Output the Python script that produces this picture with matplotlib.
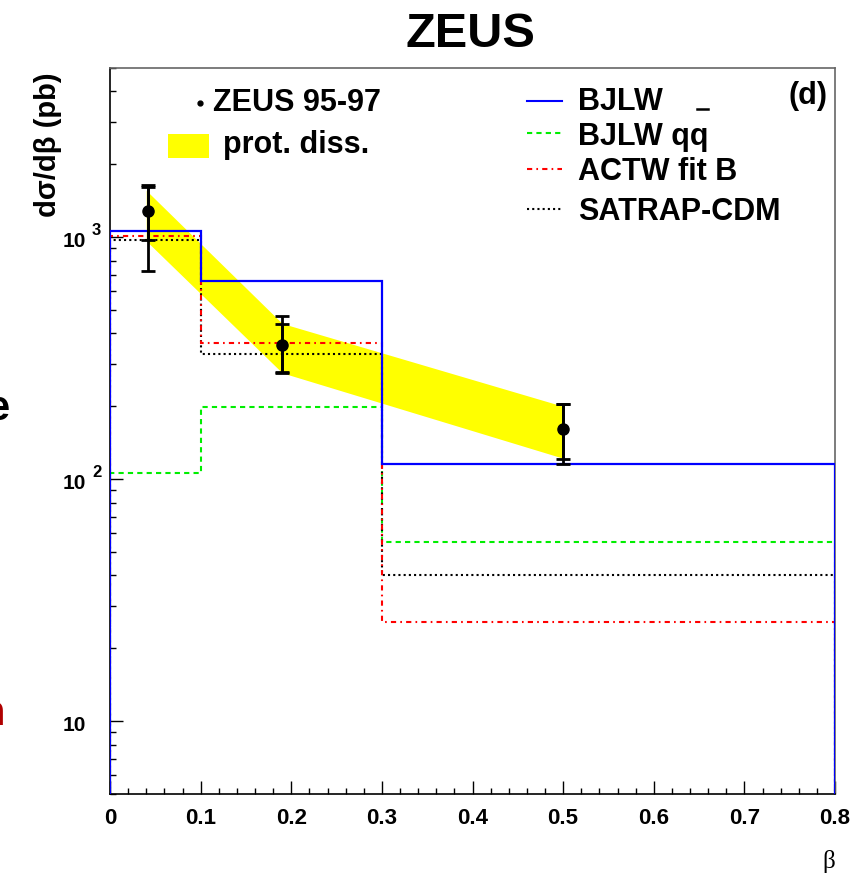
import matplotlib
matplotlib.use("Agg")
import matplotlib.pyplot as plt
from matplotlib.lines import Line2D
from matplotlib.patches import Rectangle
from matplotlib import transforms
from matplotlib.ticker import LogLocator, MultipleLocator, NullFormatter
import numpy as np

plt.rcParams['font.family'] = ['Liberation Sans', 'DejaVu Sans']

# data
edges = [0.0, 0.1, 0.3, 0.8]
bjlw = [1060, 658, 115]
bjlw_qq = [106, 199, 55]
actw = [1010, 365, 25.7]
satrap = [975, 328, 40]

beta = [0.042, 0.19, 0.5]
xsec = [1280, 358, 161]
stat_up = [330, 80, 43]
stat_dn = [310, 80, 40]
tot_up = [370, 114, 43]
tot_dn = [556, 83, 46]

band_x = [0.04, 0.19, 0.5]
band_hi = [1560, 440, 200]
band_lo = [965, 275, 122]

xticks = [0, 0.1, 0.2, 0.3, 0.4, 0.5, 0.6, 0.7, 0.8]
xticklabels = ['0', '0.1', '0.2', '0.3', '0.4', '0.5', '0.6', '0.7', '0.8']
ydecades = [10, 100, 1000]
ysup = ['', '2', '3']

W, H = 861, 876
fig = plt.figure(figsize=(W / 100, H / 100), dpi=100)


def fx(x):
    return x / W


def fy(y):
    return 1 - y / H


ax = fig.add_axes([fx(110), fy(794), fx(835) - fx(110), fy(68) - fy(794)])
ax.set_yscale('log')
ax.set_xlim(0, 0.8)
ax.set_ylim(5, 5000)

ax.fill_between(band_x, band_lo, band_hi, color='#ffff00', lw=0, zorder=1)

ax.stairs(bjlw_qq, edges, baseline=1, color='#00ee00', lw=1.5,
          linestyle=(0, (2.5, 2)), zorder=2)
ax.stairs(satrap, edges, baseline=1, color='black', lw=1.5,
          linestyle=(0, (1, 1.5)), zorder=2)
ax.stairs(actw, edges, baseline=1, color='#ff0000', lw=1.5,
          linestyle=(0, (2.5, 2, 0.8, 2)), zorder=2)
ax.stairs(bjlw, edges, baseline=1, color='#0000ff', lw=1.6, zorder=3)

ax.errorbar(beta, xsec, yerr=[tot_dn, tot_up], fmt='none', ecolor='black',
            elinewidth=2, capsize=5, capthick=2, zorder=4)
ax.errorbar(beta, xsec, yerr=[stat_dn, stat_up], fmt='o', color='black',
            ms=8, elinewidth=2, capsize=5, capthick=2, zorder=5)

# axes style (ROOT-like)
ax.xaxis.set_major_locator(MultipleLocator(0.1))
ax.xaxis.set_minor_locator(MultipleLocator(0.02))
ax.set_xticks(xticks)
ax.set_xticklabels(xticklabels, fontsize=16, fontweight='bold')
ax.yaxis.set_major_locator(LogLocator(base=10, numticks=10))
ax.yaxis.set_minor_locator(LogLocator(base=10, subs=np.arange(2, 10), numticks=20))
ax.yaxis.set_major_formatter(NullFormatter())
ax.yaxis.set_minor_formatter(NullFormatter())
ax.tick_params(which='both', direction='in', top=False, right=False, width=1)
ax.tick_params(which='major', length=9.5)
ax.tick_params(which='minor', length=4.5)
ax.tick_params(axis='x', pad=10)
ax.spines['top'].set_color('#666666')
ax.spines['right'].set_color('#666666')
for s in ax.spines.values():
    s.set_linewidth(1.2)

# y tick labels as 10 with raised exponent
tr_main = transforms.offset_copy(ax.get_yaxis_transform(), fig=fig, x=-24, y=-10, units='dots')
tr_sup = transforms.offset_copy(ax.get_yaxis_transform(), fig=fig, x=-18, y=2, units='dots')
for v, s in zip(ydecades, ysup):
    ax.text(0, v, '10', transform=tr_main, ha='right', va='baseline',
            fontsize=15, fontweight='bold')
    if s:
        ax.text(0, v, s, transform=tr_sup, ha='left', va='baseline',
                fontsize=12, fontweight='bold')

fig.text(fx(470), fy(47), 'ZEUS', ha='center', va='baseline',
         fontsize=35, fontweight='bold')
fig.text(fx(48), fy(145), 'dσ/dβ (pb)', rotation=90, ha='center', va='center',
         fontsize=21, fontweight='bold')
fig.text(fx(835), fy(868), 'β', ha='right', va='baseline', fontsize=18,
         family=['Liberation Serif', 'DejaVu Serif'])

# left legend
fig.add_artist(Line2D([fx(200)], [fy(103)], marker='o', ms=3.5, color='black', lw=0))
fig.text(fx(213), fy(111), 'ZEUS 95-97', ha='left', va='baseline',
         fontsize=22, fontweight='bold')
fig.add_artist(Rectangle((fx(168), fy(158)), fx(209) - fx(168), fy(134) - fy(158),
                         transform=fig.transFigure, color='#ffff00', lw=0))
fig.text(fx(223), fy(153), 'prot. diss.', ha='left', va='baseline',
         fontsize=22, fontweight='bold')

# right legend
leg = [
    ('BJLW', '#0000ff', '-', 101, 110),
    ('BJLW qq', '#00ee00', (0, (2.5, 2)), 133, 145),
    ('ACTW fit B', '#ff0000', (0, (2.5, 2, 0.8, 2)), 169, 180),
    ('SATRAP-CDM', 'black', (0, (1, 1.5)), 209, 220),
]
for lab, c, ls, ly, ty in leg:
    fig.add_artist(Line2D([fx(527), fx(562)], [fy(ly), fy(ly)], color=c,
                          linestyle=ls, lw=1.5))
    fig.text(fx(578), fy(ty), lab, ha='left', va='baseline', fontsize=22,
             fontweight='bold')
fig.add_artist(Line2D([fx(697), fx(708)], [fy(109), fy(109)], color='black', lw=1.8))

fig.text(fx(828), fy(104), '(d)', ha='right', va='baseline', fontsize=22,
         fontweight='bold')

# cut-off letters from the neighbouring panel
fig.text(fx(9), fy(420), 'e', ha='right', va='baseline', fontsize=30, fontweight='bold')
fig.text(fx(5), fy(725), 'n', ha='right', va='baseline', fontsize=30,
         fontweight='bold', color='#b00000')

fig.savefig('out.png', dpi=100)
